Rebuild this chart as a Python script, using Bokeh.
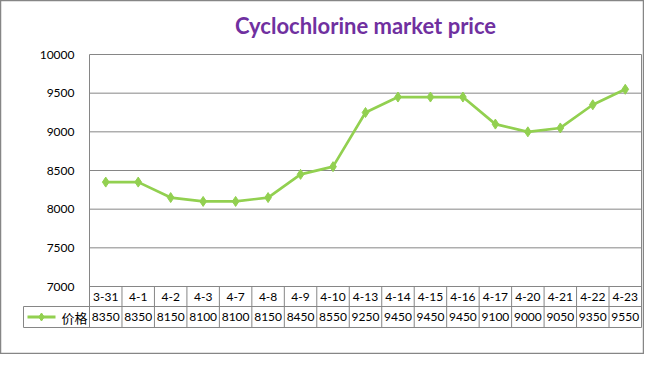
from bokeh.plotting import figure
from bokeh.models import LinearAxis, FixedTicker, Label, Range1d
from bokeh.core.properties import value
from bokeh.embed import file_html
from bokeh.resources import INLINE

# ---- data ----
categories = ["3-31", "4-1", "4-2", "4-3", "4-7", "4-8", "4-9", "4-10", "4-13",
              "4-14", "4-15", "4-16", "4-17", "4-20", "4-21", "4-22", "4-23"]
prices = [8350, 8350, 8150, 8100, 8100, 8150, 8450, 8550, 9250,
          9450, 9450, 9450, 9100, 9000, 9050, 9350, 9550]
y_ticks = [7000, 7500, 8000, 8500, 9000, 9500, 10000]
series_name = "价格"
title_text = "Cyclochlorine market price"

# ---- layout (pixels) ----
W, H = 644, 354
PX_LEFT, PX_RIGHT = 89, 641
PX_TOP, PX_BOT = 54, 286
ROW1, ROW2 = 20, 21
LEG_W = 66
GRID = "#868686"
GREEN = "#92D050"
FONT = "Lato"

n = len(categories)
xs = list(range(n))
sx = (PX_RIGHT - PX_LEFT) / n
x_start = -0.5 - PX_LEFT / sx
x_end = n - 0.5 + (W - PX_RIGHT) / sx
ymin, ymax = y_ticks[0], y_ticks[-1]
sy = (PX_BOT - PX_TOP) / (ymax - ymin)
y_end = ymax + PX_TOP / sy
y_start = ymin - (H - PX_BOT) / sy
row1_bot = ymin - ROW1 / sy
row2_bot = row1_bot - ROW2 / sy
leg_left = -0.5 - LEG_W / sx
left_edge, right_edge = -0.5, n - 0.5

p = figure(width=W, height=H, x_range=Range1d(x_start, x_end),
           y_range=Range1d(y_start, y_end), x_axis_type=None, y_axis_type=None,
           toolbar_location=None, output_backend="svg", min_border=0,
           outline_line_color=GRID, outline_line_width=1.5,
           background_fill_color="white", border_fill_color="white")

# y axis placed at the plot area's left edge
yaxis = LinearAxis(fixed_location=left_edge, ticker=FixedTicker(ticks=y_ticks),
                   axis_line_color=None, major_tick_line_color=None,
                   minor_tick_line_color=None, major_label_standoff=9,
                   major_label_text_font=FONT, major_label_text_font_size="12px",
                   major_label_text_color="black")
p.add_layout(yaxis, "left")

# horizontal grid lines
p.segment(x0=left_edge, x1=right_edge, y0=y_ticks, y1=y_ticks, line_color=GRID, line_width=1)
# plot area left/right borders continuing through the table
p.segment(x0=[left_edge, right_edge], x1=[left_edge, right_edge],
          y0=ymax, y1=row2_bot, line_color=GRID, line_width=1)
# table column separators
seps = [i + 0.5 for i in range(n - 1)]
p.segment(x0=seps, x1=seps, y0=ymin, y1=row2_bot, line_color=GRID, line_width=1)
# legend cell left edge + table horizontals
p.segment(x0=leg_left, x1=leg_left, y0=row1_bot, y1=row2_bot, line_color=GRID, line_width=1)
p.segment(x0=leg_left, x1=right_edge, y0=[row1_bot, row2_bot], y1=[row1_bot, row2_bot],
          line_color=GRID, line_width=1)

# data series
p.line(xs, prices, line_color=GREEN, line_width=2.7)
p.scatter(xs, prices, marker="diamond", size=10, fill_color=GREEN, line_color=GREEN)

# table text
hdr_y = (ymin + row1_bot) / 2
val_y = (row1_bot + row2_bot) / 2
p.text(x=xs, y=[hdr_y] * n, text=categories, text_align="center", text_baseline="middle",
       text_font=value(FONT), text_font_size="12px", text_color="black")
p.text(x=xs, y=[val_y] * n, text=[str(v) for v in prices], text_align="center",
       text_baseline="middle", text_font=value(FONT), text_font_size="12px",
       text_color="black")

# legend key in the table
lk0 = leg_left + 4 / sx
lk1 = leg_left + 32 / sx
p.segment(x0=lk0, x1=lk1, y0=val_y, y1=val_y, line_color=GREEN, line_width=3)
p.scatter([(lk0 + lk1) / 2], [val_y], marker="diamond", size=8, fill_color=GREEN, line_color=GREEN)
p.text(x=[leg_left + 38 / sx], y=[val_y], text=[series_name], text_align="left",
       text_baseline="middle", text_font=value("Noto Sans CJK SC"),
       text_font_size="13px", text_color="black")

# title
title = Label(x=(n - 1) / 2, y=ymax + 29 / sy, text=title_text, text_align="center",
              text_baseline="middle", text_font=FONT, text_font_style="bold",
              text_font_size="22px", text_color="#7030A0")
p.add_layout(title)

open("out.html", "w").write(file_html(p, INLINE))
